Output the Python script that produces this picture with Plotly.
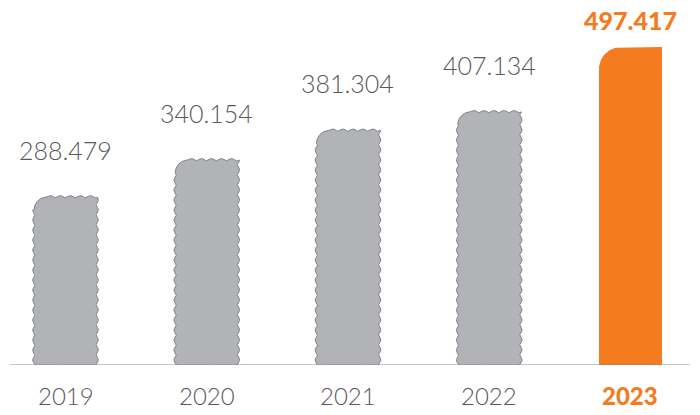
import numpy as np
import plotly.graph_objects as go

# ---- data ----
years = ["2019", "2020", "2021", "2022", "2023"]
values = [288.479, 340.154, 381.304, 407.134, 497.417]
value_labels = ["288.479", "340.154", "381.304", "407.134", "497.417"]
highlight = [False, False, False, False, True]

# ---- layout / style ----
W, H = 700, 415
MT, MB = 0, 50
X_RANGE = [-0.4637, 4.4922]
Y_RANGE = [54.5, 562.9]
PX_X = W / (X_RANGE[1] - X_RANGE[0])
PX_Y = (H - MT - MB) / (Y_RANGE[1] - Y_RANGE[0])

GRAY_FILL = "#b2b3b6"
GRAY_LINE = "#808184"
ORANGE = "#f47b20"
TEXT_GRAY = "#58595b"
FONT = "Lato"

HALF_PX = 31.5
AMP = 1.3
PERIOD = 10.0


def scallop(s):
    # bumps outward with cusps inward
    return AMP * (2 * np.abs(np.sin(np.pi * s / PERIOD)) - 1)


def bar_outline(i, v, wavy, r):
    h = (v - Y_RANGE[0]) * PX_Y
    f = scallop if wavy else (lambda s: 0 * s)
    step = 0.4
    us, ws = [], []
    # bottom edge
    u = np.arange(-HALF_PX, HALF_PX, step)
    us += list(u); ws += list((-0.8 if wavy else 0.0) - f(u))
    # right edge
    w = np.arange(0, h, step)
    us += list(HALF_PX + f(w)); ws += list(w)
    # top edge (right to left)
    u = np.arange(HALF_PX, -HALF_PX + r, -step)
    us += list(u); ws += list(h + f(u))
    # corner
    t = np.linspace(np.pi / 2, np.pi, 40)
    us += list(-HALF_PX + r + r * np.cos(t)); ws += list(h - r + r * np.sin(t))
    # left edge
    w = np.arange(h - r, 0, -step)
    us += list(-HALF_PX - f(w)); ws += list(w)
    us.append(us[0]); ws.append(ws[0])
    xs = i + np.array(us) / PX_X
    ys = Y_RANGE[0] + np.array(ws) / PX_Y
    return xs, ys


fig = go.Figure()
for i, (v, hl) in enumerate(zip(values, highlight)):
    xs, ys = bar_outline(i, v, wavy=not hl, r=22 if hl else 13)
    fig.add_trace(go.Scatter(
        x=xs, y=ys, mode="lines", fill="toself",
        fillcolor=ORANGE if hl else GRAY_FILL,
        line=dict(color=ORANGE if hl else GRAY_LINE, width=0 if hl else 1),
        hoverinfo="skip", showlegend=False,
    ))

# baseline
fig.add_shape(type="line", xref="x", yref="y",
              x0=-0.393, x1=4.421, y0=Y_RANGE[0], y1=Y_RANGE[0],
              line=dict(color="#8c8c8c", width=1.2), layer="above")

annotations = []
for i, (v, lab, yr, hl) in enumerate(zip(values, value_labels, years, highlight)):
    annotations.append(dict(
        x=i, y=v, xref="x", yref="y", text=lab, showarrow=False,
        yanchor="bottom", yshift=10 if hl else 30,
        font=dict(family=FONT, size=25, color=ORANGE if hl else TEXT_GRAY,
                  weight=900 if hl else 300),
    ))
    annotations.append(dict(
        x=i, y=0, xref="x", yref="paper", text=yr, showarrow=False,
        yanchor="top", yshift=-14,
        font=dict(family=FONT, size=24, color=ORANGE if hl else TEXT_GRAY,
                  weight=900 if hl else 300),
    ))

fig.update_layout(
    width=W, height=H,
    margin=dict(l=0, r=0, t=MT, b=MB),
    plot_bgcolor="white", paper_bgcolor="white",
    xaxis=dict(range=X_RANGE, visible=False, fixedrange=True),
    yaxis=dict(range=Y_RANGE, visible=False, fixedrange=True),
    annotations=annotations,
)

fig.write_html("out.html", config={"displayModeBar": False},
               post_script="document.body.style.margin='0';document.body.style.padding='0';")
